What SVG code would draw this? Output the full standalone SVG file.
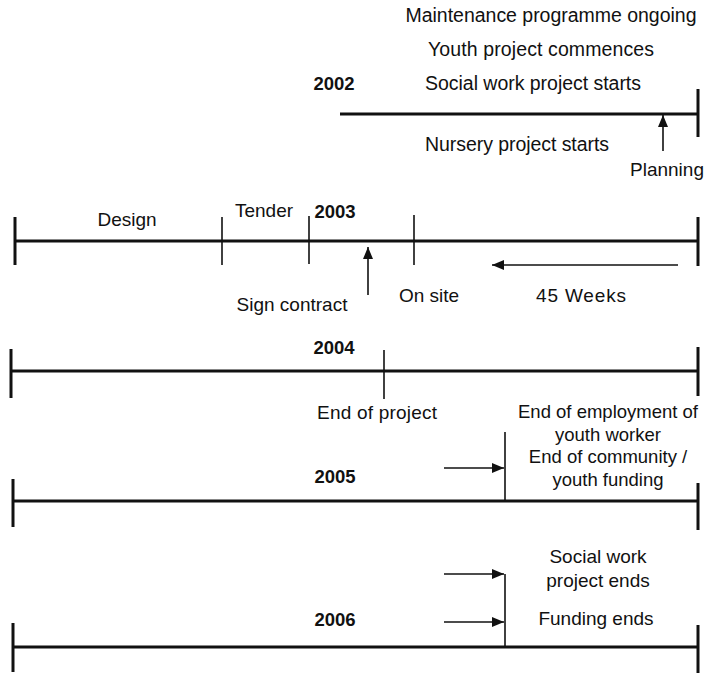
<svg xmlns="http://www.w3.org/2000/svg" width="710" height="673" viewBox="0 0 710 673">
<style>
  text { font-family: "Liberation Sans", Arial, sans-serif; font-size: 19px; fill: #111; text-anchor: middle; }
  .big { font-size: 19.5px; }
  .sm { font-size: 18.5px; }
  .yr { font-weight: bold; font-size: 18.5px; }
  .main { stroke: #111; stroke-width: 3; fill: none; }
  .end { stroke: #111; stroke-width: 3; }
  .tick { stroke: #111; stroke-width: 1.6; }
  .arr { stroke: #111; stroke-width: 1.6; fill: none; marker-end: url(#ah); }
</style>
<defs>
  <marker id="ah" viewBox="0 0 12 10" refX="12" refY="5" markerWidth="12" markerHeight="10" markerUnits="userSpaceOnUse" orient="auto">
    <path d="M0,0 L12,5 L0,10 Z" fill="#111"/>
  </marker>
</defs>
<rect width="710" height="673" fill="#fff"/>

<g id="timeline-2002">
  <line class="main" x1="340" y1="114" x2="698" y2="114"/>
  <line class="end" x1="698" y1="89" x2="698" y2="137"/>
  <text class="yr" x="334" y="90">2002</text>
  <text class="big" x="551" y="22" textLength="291">Maintenance programme ongoing</text>
  <text class="big" x="541" y="56" textLength="226">Youth project commences</text>
  <text class="big" x="533" y="90" textLength="216">Social work project starts</text>
  <text class="big" x="517" y="151" textLength="184">Nursery project starts</text>
  <text x="667" y="176">Planning</text>
</g>

<g id="timeline-2003">
  <line class="main" x1="15" y1="241" x2="698" y2="241"/>
  <line class="end" x1="15" y1="217" x2="15" y2="265"/>
  <line class="tick" x1="222" y1="217" x2="222" y2="265"/>
  <line class="tick" x1="309" y1="216" x2="309" y2="264"/>
  <line class="tick" x1="414" y1="215" x2="414" y2="265"/>
  <line class="end" x1="698" y1="217" x2="698" y2="266"/>
  <text class="yr" x="335" y="218">2003</text>
  <text x="127" y="226">Design</text>
  <text x="264" y="217">Tender</text>
  <text x="292" y="311">Sign contract</text>
  <text x="429" y="302">On site</text>
  <text x="581" y="302" textLength="90">45 Weeks</text>
</g>

<g id="timeline-2004">
  <line class="main" x1="11" y1="371" x2="698" y2="371"/>
  <line class="end" x1="11" y1="349" x2="11" y2="398"/>
  <line class="tick" x1="384" y1="350" x2="384" y2="399"/>
  <line class="end" x1="698" y1="347" x2="698" y2="396"/>
  <text class="yr" x="334" y="354">2004</text>
  <text x="377" y="419" textLength="120">End of project</text>
</g>

<g id="timeline-2005">
  <line class="main" x1="13" y1="501" x2="698" y2="501"/>
  <line class="end" x1="13" y1="479" x2="13" y2="527"/>
  <line class="end" x1="698" y1="483" x2="698" y2="530"/>
  <line class="tick" x1="505" y1="432" x2="505" y2="501"/>
  <text class="yr" x="335" y="483">2005</text>
  <text class="sm" x="608" y="418">End of employment of</text>
  <text class="sm" x="608" y="441">youth worker</text>
  <text class="sm" x="608" y="463">End of community /</text>
  <text class="sm" x="608" y="486">youth funding</text>
</g>

<g id="timeline-2006">
  <line class="main" x1="13" y1="647" x2="698" y2="647"/>
  <line class="end" x1="13" y1="623" x2="13" y2="672"/>
  <line class="end" x1="698" y1="625" x2="698" y2="673"/>
  <line class="tick" x1="505" y1="574" x2="505" y2="647"/>
  <text class="yr" x="335" y="626">2006</text>
  <text x="598" y="563">Social work</text>
  <text x="598" y="587">project ends</text>
  <text x="596" y="625">Funding ends</text>
</g>

<g id="connectors">
  <line class="arr" x1="663" y1="151" x2="663" y2="115"/>
  <line class="arr" x1="368" y1="295" x2="368" y2="247"/>
  <line class="arr" x1="678" y1="265" x2="492" y2="265"/>
  <line class="arr" x1="444" y1="468" x2="504" y2="468"/>
  <line class="arr" x1="444" y1="574" x2="504" y2="574"/>
  <line class="arr" x1="444" y1="622" x2="504" y2="622"/>
</g>
</svg>
